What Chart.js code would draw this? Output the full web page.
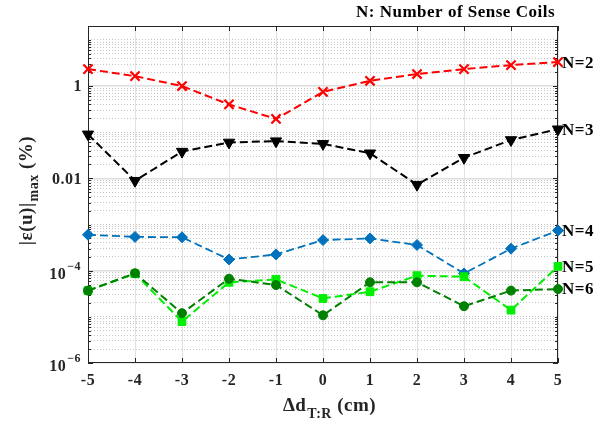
<!DOCTYPE html>
<html>
<head>
<meta charset="utf-8">
<script src="https://cdn.jsdelivr.net/npm/chart.js@4.4.1/dist/chart.umd.min.js"></script>
<style>
  html, body { margin: 0; padding: 0; background: #fff; }
</style>
</head>
<body>
<canvas id="chart" width="609" height="422"></canvas>
<script>
const xLabels = ['-5', '-4', '-3', '-2', '-1', '0', '1', '2', '3', '4', '5'];
const yTicks = [1e-6, 1e-4, 1e-2, 1];
const yTickBase = ['10', '10', '0.01', '1'];
const yTickExp = ['\u22126', '\u22124', '', ''];

const seriesNames = ['N=2', 'N=3', 'N=4', 'N=5', 'N=6'];
const n2 = [2.33, 1.64, 1.0, 0.40, 0.194, 0.75, 1.30, 1.82, 2.33, 2.84, 3.30];
const n3 = [0.090, 0.0089, 0.038, 0.060, 0.064, 0.056, 0.035, 0.0073, 0.028, 0.068, 0.116];
const n4 = [6.0e-4, 5.4e-4, 5.3e-4, 1.75e-4, 2.25e-4, 4.6e-4, 5.0e-4, 3.6e-4, 8.7e-5, 3.0e-4, 7.4e-4];
const n5 = [3.7e-5, 8.6e-5, 7.9e-6, 5.6e-5, 6.5e-5, 2.5e-5, 3.5e-5, 7.8e-5, 7.4e-5, 1.4e-5, 1.24e-4];
const n6 = [3.7e-5, 8.8e-5, 1.2e-5, 6.7e-5, 4.9e-5, 1.08e-5, 5.6e-5, 5.6e-5, 1.7e-5, 3.7e-5, 4.0e-5];

const Y_MIN = 1e-6;
const Y_MAX = 20;
const SERIF = '"Liberation Serif", "Times New Roman", serif';

// every 1..9 x 10^k line inside the range, the minor ones are dotted
function gridValues() {
    const out = [];
    for (let e = -6; e <= 1; e++) {
        for (let m = 1; m <= 9; m++) {
            const v = m * Math.pow(10, e);
            if (v <= Y_MAX * 1.0001) out.push(v);
        }
    }
    return out;
}

function isMajor(v) {
    return yTicks.some(t => Math.abs(Math.log10(v) - Math.log10(t)) < 1e-6);
}

function makeSet(label, data, color, style, radius, order, width) {
    return {
        label: label,
        data: data,
        borderColor: color,
        backgroundColor: color,
        borderWidth: width,
        borderDash: [8, 4],
        pointStyle: style,
        pointRadius: radius,
        pointHoverRadius: radius,
        pointBorderWidth: style === 'crossRot' ? 2.2 : 1,
        pointRotation: style === 'triangle' ? 180 : 0,
        tension: 0,
        fill: false,
        clip: false,
        order: order
    };
}

const frame = {
    id: 'frame',
    beforeDatasetsDraw(chart) {
        const { ctx, chartArea: a, scales } = chart;
        ctx.save();
        ctx.strokeStyle = '#262626';
        ctx.lineWidth = 1;
        ctx.strokeRect(a.left + 0.5, a.top + 0.5, a.right - a.left - 1, a.bottom - a.top - 1);
        ctx.beginPath();
        xLabels.forEach((l, i) => {
            const x = Math.round(scales.x.getPixelForValue(i)) + 0.5;
            ctx.moveTo(x, a.bottom); ctx.lineTo(x, a.bottom - 5);
            ctx.moveTo(x, a.top); ctx.lineTo(x, a.top + 5);
        });
        gridValues().forEach(v => {
            const y = Math.round(scales.y.getPixelForValue(v)) + 0.5;
            const len = isMajor(v) ? 5 : 3;
            ctx.moveTo(a.left, y); ctx.lineTo(a.left + len, y);
            ctx.moveTo(a.right, y); ctx.lineTo(a.right - len, y);
        });
        ctx.stroke();
        ctx.restore();
    },
    afterDraw(chart) {
        const { ctx, chartArea: a, scales } = chart;
        ctx.save();
        ctx.fillStyle = '#262626';
        ctx.letterSpacing = '0.5px';

        // x tick labels
        ctx.font = 'bold 16px ' + SERIF;
        ctx.textAlign = 'center';
        ctx.textBaseline = 'middle';
        xLabels.forEach((l, i) => {
            ctx.fillText(l, scales.x.getPixelForValue(i), 381);
        });

        // y tick labels, with superscript exponents
        ctx.textAlign = 'right';
        yTicks.forEach((v, i) => {
            const y = scales.y.getPixelForValue(v);
            if (yTickExp[i]) {
                ctx.font = 'bold 12px ' + SERIF;
                const ew = ctx.measureText(yTickExp[i]).width;
                ctx.fillText(yTickExp[i], 81, y - 4);
                ctx.font = 'bold 16px ' + SERIF;
                ctx.fillText(yTickBase[i], 81 - ew - 1, y + 4);
            } else {
                ctx.font = 'bold 16px ' + SERIF;
                ctx.fillText(yTickBase[i], 82, y + 1);
            }
        });

        // series labels at the right end
        ctx.fillStyle = '#000';
        ctx.textAlign = 'left';
        ctx.font = 'bold 17px ' + SERIF;
        chart.data.datasets.forEach(ds => {
            const y = scales.y.getPixelForValue(ds.data[ds.data.length - 1]);
            ctx.fillText(ds.label, a.right + 4, y + 1);
        });

        // title
        ctx.textAlign = 'right';
        ctx.font = 'bold 17px ' + SERIF;
        ctx.fillText('N: Number of Sense Coils', 555, 13);

        // x axis title
        ctx.fillStyle = '#262626';
        ctx.textBaseline = 'alphabetic';
        ctx.textAlign = 'left';
        const big = 'bold 19px ' + SERIF;
        const small = 'bold 14px ' + SERIF;
        ctx.font = big;
        const w1 = ctx.measureText('\u0394d').width;
        const w3 = ctx.measureText(' (cm)').width;
        ctx.font = small;
        const w2 = ctx.measureText('T:R').width;
        let x0 = 329 - (w1 + w2 + w3) / 2;
        ctx.font = big;
        ctx.fillText('\u0394d', x0, 411);
        ctx.font = small;
        ctx.fillText('T:R', x0 + w1 + 1, 418);
        ctx.font = big;
        ctx.fillText(' (cm)', x0 + w1 + w2 + 1, 411);

        // y axis title, rotated
        ctx.translate(32, 191);
        ctx.rotate(-Math.PI / 2);
        ctx.font = big;
        const v1 = ctx.measureText('|\u03b5(u)|').width;
        const v3 = ctx.measureText(' (%)').width;
        ctx.font = small;
        const v2 = ctx.measureText('max').width;
        let y0 = -(v1 + v2 + v3) / 2;
        ctx.font = big;
        ctx.fillText('|\u03b5(u)|', y0, 0);
        ctx.font = small;
        ctx.fillText('max', y0 + v1 + 1, 6);
        ctx.font = big;
        ctx.fillText(' (%)', y0 + v1 + v2 + 1, 0);
        ctx.restore();
    }
};

new Chart(document.getElementById('chart'), {
    type: 'line',
    data: {
        labels: xLabels,
        datasets: [
            makeSet(seriesNames[0], n2, '#ff0000', 'crossRot', 6.5, 5, 2),
            makeSet(seriesNames[1], n3, '#000000', 'triangle', 6.5, 4, 2),
            makeSet(seriesNames[2], n4, '#0072bd', 'rectRot', 5.5, 3, 1.8),
            makeSet(seriesNames[3], n5, '#00ee00', 'rect', 5.5, 2, 2),
            makeSet(seriesNames[4], n6, '#008000', 'circle', 4.5, 1, 2)
        ]
    },
    options: {
        responsive: false,
        animation: false,
        layout: { padding: { left: 88, right: 51, top: 26, bottom: 59 } },
        plugins: {
            legend: { display: false },
            tooltip: { enabled: false },
            title: { display: false }
        },
        scales: {
            x: {
                type: 'category',
                offset: false,
                ticks: { display: false },
                grid: { color: '#e2e2e2', lineWidth: 1, drawTicks: false },
                border: { display: false }
            },
            y: {
                type: 'logarithmic',
                min: Y_MIN,
                max: Y_MAX,
                afterBuildTicks: scale => {
                    scale.ticks = gridValues().map(v => ({ value: v }));
                },
                ticks: { display: false },
                grid: {
                    drawTicks: false,
                    color: c => (c.tick && isMajor(c.tick.value)) ? '#dedede' : '#c4c4c4',
                    lineWidth: c => (c.tick && isMajor(c.tick.value)) ? 1.5 : 1
                },
                border: {
                    display: false,
                    dash: c => (c.tick && isMajor(c.tick.value)) ? [] : [1, 2]
                }
            }
        }
    },
    plugins: [frame]
});
</script>
</body>
</html>
